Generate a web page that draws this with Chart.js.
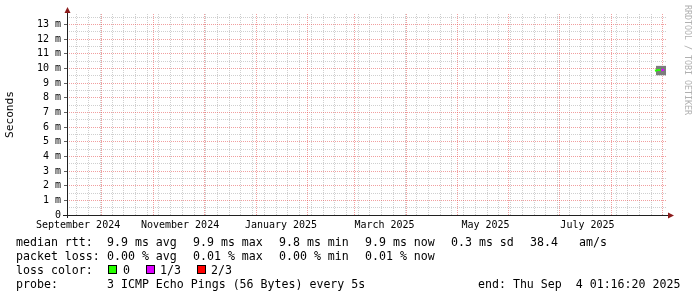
<!DOCTYPE html>
<html>
<head>
<meta charset="utf-8">
<script src="https://cdn.jsdelivr.net/npm/chart.js@4.4.1/dist/chart.umd.min.js"></script>
<style>
  body { margin: 0; background: #fff; }
  #wrap { position: relative; width: 697px; height: 297px; overflow: hidden; }
  #rrd { position: absolute; left: 0; top: 0; }
  .leg { position: absolute; font: 11.6px 'DejaVu Sans Mono', monospace; line-height: 14px; white-space: pre; color: #000; }
  .box { position: absolute; width: 7px; height: 7px; border: 1px solid #000; }
</style>
</head>
<body>
<div id="wrap">
  <canvas id="rrd" width="697" height="297"></canvas>
  <div id="legend"></div>
</div>
<script>
// x values are days counted from 2024-09-01
var xStart = 9.1;
var xEnd = 367.4;

// first day of each month (Oct 2024 .. Sep 2025), red grid
var monthStarts = [30, 61, 91, 122, 153, 181, 212, 242, 273, 303, 334, 365];
// mondays, grey grid
var weekStarts = [];
for (var d = 15; d <= xEnd; d += 7) weekStarts.push(d);

// month labels and where they sit (mid month)
var monthLabels = ['September 2024', 'November 2024', 'January 2025', 'March 2025', 'May 2025', 'July 2025'];
var monthLabelAt = [15.7, 76.6, 136.9, 198.7, 259.0, 319.9];

// y axis in ms
var yMax = 13.72;
var yLabels = ['0', '1 m', '2 m', '3 m', '4 m', '5 m', '6 m', '7 m', '8 m', '9 m', '10 m', '11 m', '12 m', '13 m'];
var yTicks = [];
for (var t = 0; t <= 13.5; t += 0.5) yTicks.push(t);

// smoke (spread of the single pings)
var smokeDays = [360.8, 366.8];
var smokeHigh = [10.18, 10.18];
var smokeLow = [9.54, 9.54];

// median rtt, loss class of each step
var medianDays = [360.2, 362.0, 363.8, 365.6];
var medianRtt = [9.85, 9.9, 9.9, 9.9];
var medianLoss = [0, 0, 1, 1];

var lossNames = ['0', '1/3', '2/3'];
var lossColors = ['#26ff00', '#dd00ff', '#ff0000'];

// legend texts
var rttStats = ['9.9 ms avg', '9.9 ms max', '9.8 ms min', '9.9 ms now', '0.3 ms sd', '38.4', 'am/s'];
var lossStats = ['0.00 % avg', '0.01 % max', '0.00 % min', '0.01 % now'];
var probeText = '3 ICMP Echo Pings (56 Bytes) every 5s';
var endText = 'end: Thu Sep  4 01:16:20 2025';

var majorGrid = 'rgba(230,80,80,0.55)';
var minorGrid = 'rgba(140,140,140,0.42)';
var mono = "'DejaVu Sans Mono'";

// all x ticks: grid lines plus label spots
var xTicks = monthStarts.concat(weekStarts, monthLabelAt)
  .filter(function (v, i, arr) { return arr.indexOf(v) === i; })
  .sort(function (a, b) { return a - b; });

// axes, arrows and the rrdtool watermark
var rrdFrame = {
  id: 'rrdFrame',
  afterDraw: function (chart) {
    var c = chart.ctx, a = chart.chartArea;
    c.save();
    c.strokeStyle = '#202020';
    c.lineWidth = 1;
    c.beginPath();
    c.moveTo(a.left - 4, a.bottom + 0.5);
    c.lineTo(a.right + 2, a.bottom + 0.5);
    c.moveTo(a.left + 0.5, a.bottom + 3);
    c.lineTo(a.left + 0.5, a.top - 2);
    c.stroke();

    c.fillStyle = '#8c1c1c';
    c.beginPath();
    c.moveTo(a.left + 0.5, a.top - 7);
    c.lineTo(a.left - 2.5, a.top - 1);
    c.lineTo(a.left + 3.5, a.top - 1);
    c.closePath();
    c.fill();
    c.beginPath();
    c.moveTo(a.right + 7, a.bottom + 0.5);
    c.lineTo(a.right + 1, a.bottom - 2.5);
    c.lineTo(a.right + 1, a.bottom + 3.5);
    c.closePath();
    c.fill();

    c.translate(687.5, 5);
    c.rotate(Math.PI / 2);
    c.fillStyle = '#b0b0b0';
    c.font = '8.3px ' + mono;
    c.textBaseline = 'middle';
    c.fillText('RRDTOOL / TOBI OETIKER', 0, 0);
    c.restore();
  }
};

new Chart(document.getElementById('rrd').getContext('2d'), {
  type: 'line',
  data: {
    datasets: [{
      // median first so it is drawn on top of the smoke
      data: medianDays.map(function (x, i) { return { x: x, y: medianRtt[i] }; }),
      borderColor: lossColors[0],
      borderWidth: 2,
      pointRadius: 0,
      fill: false,
      segment: {
        borderColor: function (ctx) { return lossColors[medianLoss[ctx.p0DataIndex]]; }
      }
    }, {
      data: smokeDays.map(function (x, i) { return { x: x, y: smokeLow[i] }; }),
      borderColor: 'transparent',
      pointRadius: 0,
      fill: false
    }, {
      data: smokeDays.map(function (x, i) { return { x: x, y: smokeHigh[i] }; }),
      borderColor: 'transparent',
      backgroundColor: '#7c7c7c',
      pointRadius: 0,
      fill: '-1'
    }]
  },
  options: {
    responsive: false,
    animation: false,
    devicePixelRatio: 1,
    events: [],
    layout: { padding: { left: 0, top: 14, right: 30, bottom: 62 } },
    plugins: { legend: { display: false }, tooltip: { enabled: false } },
    scales: {
      x: {
        type: 'linear',
        min: xStart,
        max: xEnd,
        afterBuildTicks: function (scale) {
          scale.ticks = xTicks.map(function (v) { return { value: v }; });
        },
        afterFit: function (scale) {
          scale.height = 20;
          scale.paddingLeft = 0;
          scale.paddingRight = 0;
        },
        grid: {
          drawTicks: false,
          color: function (ctx) {
            var v = ctx.tick ? ctx.tick.value : null;
            if (monthStarts.indexOf(v) >= 0) return majorGrid;
            if (weekStarts.indexOf(v) >= 0) return minorGrid;
            return 'transparent';
          }
        },
        border: { display: false, dash: [1, 1] },
        ticks: {
          autoSkip: false,
          maxRotation: 0,
          padding: 4,
          color: '#000',
          font: { family: mono, size: 10 },
          callback: function (v) {
            var i = monthLabelAt.indexOf(v);
            return i >= 0 ? monthLabels[i] : '';
          }
        }
      },
      y: {
        min: 0,
        max: yMax,
        afterBuildTicks: function (scale) {
          scale.ticks = yTicks.map(function (v) { return { value: v }; });
        },
        afterFit: function (scale) {
          scale.width = 67;
          scale.paddingTop = 0;
          scale.paddingBottom = 0;
        },
        grid: {
          drawTicks: true,
          tickLength: 3,
          color: function (ctx) {
            var v = ctx.tick ? ctx.tick.value : 0;
            if (v === 0) return 'transparent';
            return Number.isInteger(v) ? majorGrid : minorGrid;
          },
          tickColor: function (ctx) {
            var v = ctx.tick ? ctx.tick.value : 0;
            return Number.isInteger(v) ? '#606060' : 'transparent';
          }
        },
        border: { display: false, dash: [1, 1] },
        ticks: {
          autoSkip: false,
          padding: 3,
          color: '#000',
          font: { family: mono, size: 10 },
          callback: function (v) { return Number.isInteger(v) ? yLabels[v] : ''; }
        },
        title: {
          display: true,
          text: 'Seconds',
          color: '#000',
          font: { family: mono, size: 11.2 },
          padding: { top: 3, bottom: 0 }
        }
      }
    }
  },
  plugins: [rrdFrame]
});

// legend lines under the graph
var legend = document.getElementById('legend');
function addText(txt, x, y) {
  var el = document.createElement('div');
  el.className = 'leg';
  el.style.left = x + 'px';
  el.style.top = y + 'px';
  el.textContent = txt;
  legend.appendChild(el);
}
function addBox(color, x, y) {
  var el = document.createElement('div');
  el.className = 'box';
  el.style.left = x + 'px';
  el.style.top = y + 'px';
  el.style.background = color;
  legend.appendChild(el);
}

var rttX = [107, 193, 279, 365, 451, 530, 579];
addText('median rtt:', 16, 235);
rttStats.forEach(function (s, i) { addText(s, rttX[i], 235); });

addText('packet loss:', 16, 249);
lossStats.forEach(function (s, i) { addText(s, rttX[i], 249); });

var boxX = [108, 146, 197];
var nameX = [123, 160, 211];
addText('loss color:', 16, 263);
lossNames.forEach(function (n, i) {
  addBox(lossColors[i], boxX[i], 265);
  addText(n, nameX[i], 263);
});

addText('probe:', 16, 277);
addText(probeText, 107, 277);
addText(endText, 478, 277);
</script>
</body>
</html>
